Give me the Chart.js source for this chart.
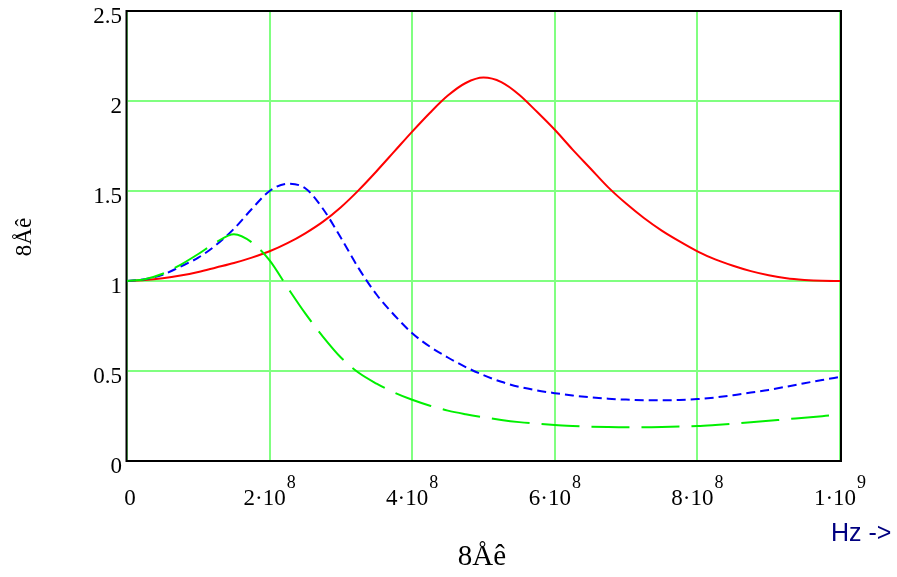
<!DOCTYPE html>
<html>
<head>
<meta charset="utf-8">
<script src="https://cdn.jsdelivr.net/npm/chart.js@4.4.1/dist/chart.umd.min.js"></script>
<style>
  body { margin: 0; background: #fff; }
  #wrap { width: 897px; height: 577px; }
</style>
</head>
<body>
<div id="wrap"><canvas id="plot" width="897" height="577"></canvas></div>
<script>
// frequency samples (Hz), every 2.5e7
const freqs = [0, 0.25e8, 0.5e8, 0.75e8, 1e8, 1.25e8, 1.5e8, 1.75e8, 2e8, 2.25e8,
  2.5e8, 2.75e8, 3e8, 3.25e8, 3.5e8, 3.75e8, 4e8, 4.25e8, 4.5e8, 4.75e8,
  5e8, 5.25e8, 5.5e8, 5.75e8, 6e8, 6.25e8, 6.5e8, 6.75e8, 7e8, 7.25e8,
  7.5e8, 7.75e8, 8e8, 8.25e8, 8.5e8, 8.75e8, 9e8, 9.25e8, 9.5e8, 9.75e8, 1e9];

// curves
const redValues = [1.000, 1.005, 1.015, 1.03, 1.05, 1.075, 1.10, 1.13, 1.165, 1.21,
  1.265, 1.33, 1.41, 1.505, 1.61, 1.72, 1.83, 1.935, 2.03, 2.10,
  2.13, 2.105, 2.035, 1.94, 1.84, 1.73, 1.625, 1.52, 1.43, 1.35,
  1.28, 1.22, 1.165, 1.12, 1.085, 1.055, 1.032, 1.015, 1.006, 1.001, 1.000];
const blueValues = [1.00, 1.01, 1.035, 1.08, 1.13, 1.20, 1.29, 1.40, 1.50, 1.54,
  1.515, 1.40, 1.24, 1.07, 0.925, 0.81, 0.71, 0.635, 0.575, 0.522,
  0.477, 0.44, 0.412, 0.392, 0.377, 0.364, 0.354, 0.346, 0.341, 0.338,
  0.337, 0.339, 0.344, 0.353, 0.365, 0.38, 0.395, 0.413, 0.432, 0.45, 0.467];
const greenValues = [1.00, 1.01, 1.04, 1.09, 1.15, 1.215, 1.26, 1.215, 1.115, 0.965,
  0.82, 0.69, 0.575, 0.49, 0.43, 0.38, 0.34, 0.307, 0.28, 0.26,
  0.243, 0.228, 0.216, 0.207, 0.20, 0.195, 0.191, 0.189, 0.188, 0.188,
  0.189, 0.191, 0.194, 0.20, 0.207, 0.215, 0.223, 0.232, 0.24, 0.249, 0.258];

// axis texts
const yTickLabels = ['0', '0.5', '1', '1.5', '2', '2.5'];
const xTickBase = ['0', '2·10', '4·10', '6·10', '8·10', '1·10'];
const xTickExp = ['', '8', '8', '8', '8', '9'];
const yTitle = '8Åê';
const xTitle = '8Åê';
const unitLabel = 'Hz ->';

const serif = "'Liberation Serif', 'Times New Roman', serif";

const toPoints = (vals) => freqs.map((f, i) => ({x: f, y: vals[i]}));

// box, x tick labels and titles
const extras = {
  id: 'extras',
  beforeDatasetsDraw(chart) {
    const {ctx, chartArea: a} = chart;
    ctx.save();
    ctx.strokeStyle = '#000';
    ctx.lineWidth = 2;
    ctx.strokeRect(a.left - 0.5, a.top, a.right - a.left + 1.5, a.bottom - a.top);
    ctx.restore();
  },
  afterDraw(chart) {
    const {ctx} = chart;
    const xs = chart.scales.x;
    ctx.save();
    ctx.fillStyle = '#000';
    ctx.textBaseline = 'alphabetic';
    ctx.textAlign = 'left';
    xs.ticks.forEach((t, i) => {
      const px = xs.getPixelForValue(t.value);
      const base = xTickBase[i], exp = xTickExp[i];
      ctx.font = '23px ' + serif;
      const wb = ctx.measureText(base).width;
      ctx.font = '18px ' + serif;
      const we = exp ? ctx.measureText(exp).width + 1 : 0;
      let x0 = px - (wb + we) / 2;
      if (!exp) x0 += 3;
      ctx.font = '23px ' + serif;
      ctx.fillText(base, x0, 505);
      if (exp) {
        ctx.font = '18px ' + serif;
        ctx.fillText(exp, x0 + wb + 1, 488);
      }
    });

    // bottom title
    ctx.font = '29px ' + serif;
    ctx.textAlign = 'center';
    ctx.fillText(xTitle, 482, 565);

    // left title
    ctx.save();
    ctx.translate(31, 237);
    ctx.rotate(-Math.PI / 2);
    ctx.font = '23px ' + serif;
    ctx.fillText(yTitle, 0, 0);
    ctx.restore();

    // unit
    ctx.font = "25px 'Liberation Sans', Arial, sans-serif";
    ctx.fillStyle = '#000080';
    ctx.textAlign = 'left';
    ctx.fillText(unitLabel, 831, 541);
    ctx.restore();
  }
};

new Chart('plot', {
  type: 'line',
  data: {
    datasets: [
      {
        data: toPoints(greenValues),
        borderColor: '#00f000',
        borderWidth: 2,
        borderDash: [38, 12],
        pointRadius: 0,
        cubicInterpolationMode: 'monotone'
      },
      {
        data: toPoints(blueValues),
        borderColor: '#0000ff',
        borderWidth: 2,
        borderDash: [9, 5],
        pointRadius: 0,
        cubicInterpolationMode: 'monotone'
      },
      {
        data: toPoints(redValues),
        borderColor: '#ff0000',
        borderWidth: 2,
        pointRadius: 0,
        cubicInterpolationMode: 'monotone'
      }
    ]
  },
  options: {
    responsive: false,
    animation: false,
    layout: {padding: {left: 0, right: 57, top: 11, bottom: 0}},
    plugins: {legend: {display: false}, tooltip: {enabled: false}},
    scales: {
      x: {
        type: 'linear',
        min: 0,
        max: 1e9,
        ticks: {stepSize: 2e8, display: false},
        grid: {color: '#80ff80', lineWidth: 2, drawTicks: false},
        border: {display: false},
        afterFit: (s) => { s.height = 116; s.paddingLeft = 0; s.paddingRight = 0; }
      },
      y: {
        min: 0,
        max: 2.5,
        ticks: {
          stepSize: 0.5,
          color: '#000',
          font: {family: serif, size: 23},
          padding: 5,
          labelOffset: 6,
          callback: (v, i) => yTickLabels[i]
        },
        grid: {color: '#80ff80', lineWidth: 2, drawTicks: false},
        border: {display: false},
        afterFit: (s) => { s.width = 127; s.paddingTop = 0; s.paddingBottom = 0; }
      }
    }
  },
  plugins: [extras]
});
</script>
</body>
</html>
